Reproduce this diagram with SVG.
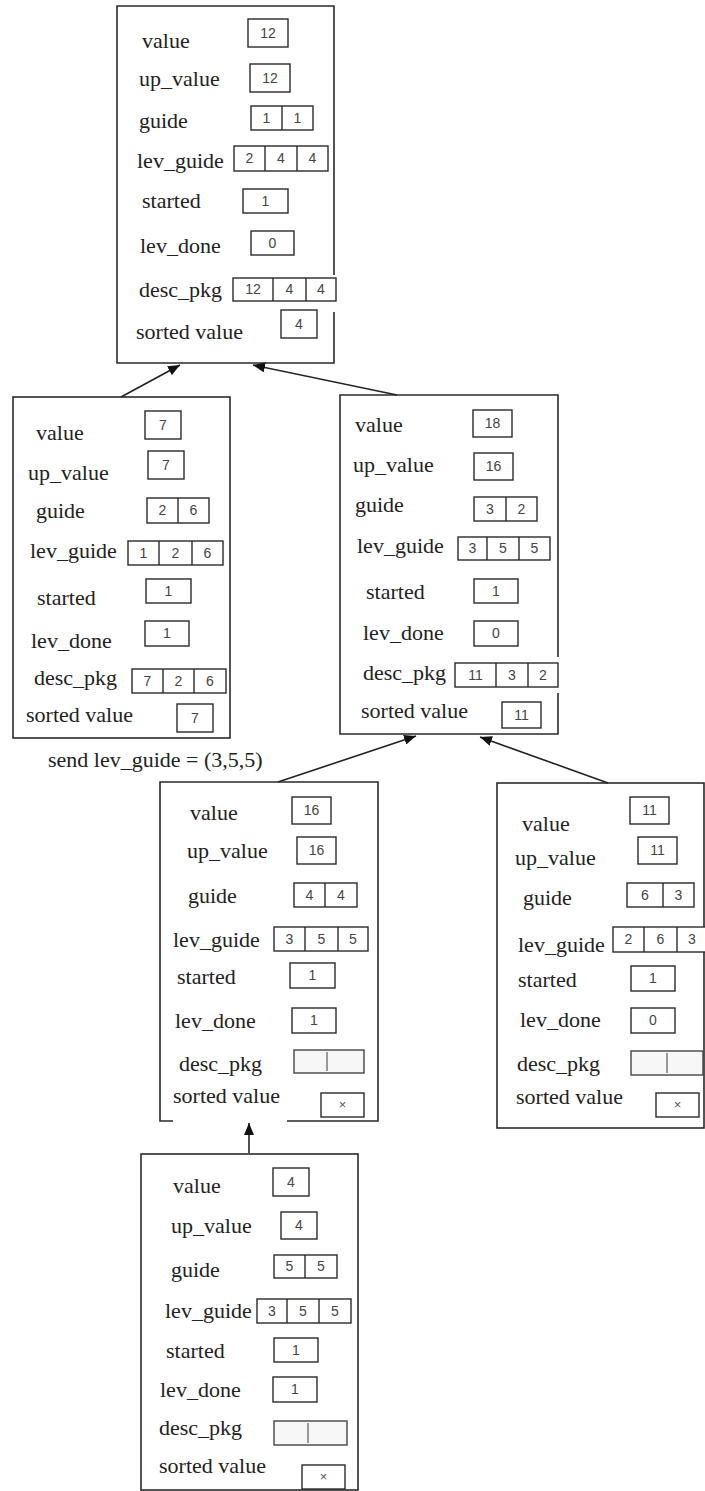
<svg xmlns="http://www.w3.org/2000/svg" width="705" height="1491" viewBox="0 0 705 1491">
<defs>
<style>
.node{fill:none;stroke:#2a2a2a;stroke-width:1.6}
.lbl{font-family:"Liberation Serif","Times New Roman",serif;font-size:22px;fill:#222}
.cell{fill:#fff;stroke:#2a2a2a;stroke-width:1.4}
.div{stroke:#2a2a2a;stroke-width:1.4}
.gdiv{stroke:#999;stroke-width:2}
.ecell{fill:#f7f7f7;stroke:#444;stroke-width:1.4}
.num{font-family:"Liberation Sans",Arial,sans-serif;font-size:14px;fill:#444;text-anchor:middle}
.x{font-family:"Liberation Sans",Arial,sans-serif;font-size:13px;fill:#555;text-anchor:middle}
.conn{stroke:#222;stroke-width:1.6;fill:none}
</style>
<marker id="ah" viewBox="0 0 12 10" refX="12" refY="5" markerWidth="12" markerHeight="10" markerUnits="userSpaceOnUse" orient="auto">
<path d="M0,0 L12,5 L0,10 Z" fill="#111"/>
</marker>
</defs>
<rect width="705" height="1491" fill="#fff"/>

<g id="node-top">
<path class="node" d="M334,275 V6 H117 V363 H334 V312"/>
<text class="lbl" x="142" y="48">value</text>
<rect class="cell" x="248" y="19" width="40" height="28"/><text class="num" x="268" y="38">12</text>
<text class="lbl" x="139" y="86">up_value</text>
<rect class="cell" x="250" y="64" width="40" height="28"/><text class="num" x="270" y="83">12</text>
<text class="lbl" x="139" y="128">guide</text>
<rect class="cell" x="251" y="106" width="62" height="24"/><line class="div" x1="282" y1="106" x2="282" y2="130"/>
<text class="num" x="266.5" y="123">1</text><text class="num" x="297.5" y="123">1</text>
<text class="lbl" x="137" y="168">lev_guide</text>
<rect class="cell" x="234" y="146" width="94" height="25"/><line class="div" x1="265" y1="146" x2="265" y2="171"/><line class="div" x1="297" y1="146" x2="297" y2="171"/>
<text class="num" x="249.5" y="163">2</text><text class="num" x="281" y="163">4</text><text class="num" x="312.5" y="163">4</text>
<text class="lbl" x="142" y="208">started</text>
<rect class="cell" x="243" y="189" width="45" height="24"/><text class="num" x="265.5" y="206">1</text>
<text class="lbl" x="140" y="253">lev_done</text>
<rect class="cell" x="251" y="231" width="43" height="24"/><text class="num" x="272.5" y="248">0</text>
<text class="lbl" x="139" y="297">desc_pkg</text>
<rect class="cell" x="233" y="278" width="103" height="23"/><line class="div" x1="273" y1="278" x2="273" y2="301"/><line class="div" x1="306" y1="278" x2="306" y2="301"/>
<text class="num" x="253" y="294">12</text><text class="num" x="289.5" y="294">4</text><text class="num" x="321" y="294">4</text>
<text class="lbl" x="136" y="339">sorted value</text>
<rect class="cell" x="281" y="310" width="36" height="28"/><text class="num" x="299" y="329">4</text>
</g>

<g id="node-left">
<rect class="node" x="13" y="397" width="217" height="341"/>
<text class="lbl" x="36" y="440">value</text>
<rect class="cell" x="145" y="411" width="36" height="28"/><text class="num" x="163" y="430">7</text>
<text class="lbl" x="28" y="480">up_value</text>
<rect class="cell" x="148" y="451" width="36" height="28"/><text class="num" x="166" y="470">7</text>
<text class="lbl" x="36" y="518">guide</text>
<rect class="cell" x="147" y="498" width="62" height="25"/><line class="div" x1="178" y1="498" x2="178" y2="523"/>
<text class="num" x="162.5" y="515">2</text><text class="num" x="193.5" y="515">6</text>
<text class="lbl" x="30" y="558">lev_guide</text>
<rect class="cell" x="128" y="541" width="95" height="24"/><line class="div" x1="159" y1="541" x2="159" y2="565"/><line class="div" x1="192" y1="541" x2="192" y2="565"/>
<text class="num" x="143.5" y="558">1</text><text class="num" x="175.5" y="558">2</text><text class="num" x="207.5" y="558">6</text>
<text class="lbl" x="37" y="605">started</text>
<rect class="cell" x="146" y="579" width="45" height="24"/><text class="num" x="168.5" y="596">1</text>
<text class="lbl" x="31" y="648">lev_done</text>
<rect class="cell" x="145" y="621" width="44" height="25"/><text class="num" x="167" y="638">1</text>
<text class="lbl" x="34" y="685">desc_pkg</text>
<rect class="cell" x="132" y="669" width="94" height="24"/><line class="div" x1="163" y1="669" x2="163" y2="693"/><line class="div" x1="194" y1="669" x2="194" y2="693"/>
<text class="num" x="147.5" y="686">7</text><text class="num" x="178.5" y="686">2</text><text class="num" x="210" y="686">6</text>
<text class="lbl" x="26" y="722">sorted value</text>
<rect class="cell" x="177" y="704" width="36" height="28"/><text class="num" x="195" y="723">7</text>
</g>

<g id="node-right">
<path class="node" d="M558,657 V395 H340 V734 H558 V693"/>
<text class="lbl" x="355" y="432">value</text>
<rect class="cell" x="473" y="410" width="39" height="27"/><text class="num" x="492.5" y="428">18</text>
<text class="lbl" x="353" y="472">up_value</text>
<rect class="cell" x="474" y="453" width="39" height="27"/><text class="num" x="493.5" y="471">16</text>
<text class="lbl" x="355" y="512">guide</text>
<rect class="cell" x="474" y="497" width="63" height="24"/><line class="div" x1="506" y1="497" x2="506" y2="521"/>
<text class="num" x="490" y="514">3</text><text class="num" x="521.5" y="514">2</text>
<text class="lbl" x="357" y="553">lev_guide</text>
<rect class="cell" x="458" y="537" width="92" height="23"/><line class="div" x1="487" y1="537" x2="487" y2="560"/><line class="div" x1="519" y1="537" x2="519" y2="560"/>
<text class="num" x="472.5" y="553">3</text><text class="num" x="503" y="553">5</text><text class="num" x="534.5" y="553">5</text>
<text class="lbl" x="366" y="599">started</text>
<rect class="cell" x="474" y="579" width="44" height="24"/><text class="num" x="496" y="596">1</text>
<text class="lbl" x="363" y="640">lev_done</text>
<rect class="cell" x="474" y="621" width="44" height="25"/><text class="num" x="496" y="638">0</text>
<text class="lbl" x="363" y="680">desc_pkg</text>
<rect class="cell" x="455" y="663" width="103" height="24"/><line class="div" x1="496" y1="663" x2="496" y2="687"/><line class="div" x1="528" y1="663" x2="528" y2="687"/>
<text class="num" x="475.5" y="680">11</text><text class="num" x="512" y="680">3</text><text class="num" x="543" y="680">2</text>
<text class="lbl" x="361" y="718">sorted value</text>
<rect class="cell" x="502" y="702" width="39" height="26"/><text class="num" x="521.5" y="720">11</text>
</g>

<g id="note">
<text class="lbl" x="48" y="767">send lev_guide = (3,5,5)</text>
</g>

<g id="node-mid">
<path class="node" d="M173,1121 H160 V782 H378 V1121 H287"/>
<text class="lbl" x="190" y="820">value</text>
<rect class="cell" x="292" y="797" width="39" height="27"/><text class="num" x="311.5" y="815">16</text>
<text class="lbl" x="187" y="858">up_value</text>
<rect class="cell" x="297" y="837" width="39" height="27"/><text class="num" x="316.5" y="855">16</text>
<text class="lbl" x="188" y="903">guide</text>
<rect class="cell" x="294" y="883" width="63" height="24"/><line class="div" x1="325" y1="883" x2="325" y2="907"/>
<text class="num" x="309.5" y="900">4</text><text class="num" x="341" y="900">4</text>
<text class="lbl" x="173" y="947">lev_guide</text>
<rect class="cell" x="274" y="927" width="94" height="24"/><line class="div" x1="305" y1="927" x2="305" y2="951"/><line class="div" x1="338" y1="927" x2="338" y2="951"/>
<text class="num" x="289.5" y="944">3</text><text class="num" x="321.5" y="944">5</text><text class="num" x="353" y="944">5</text>
<text class="lbl" x="177" y="984">started</text>
<rect class="cell" x="290" y="963" width="45" height="25"/><text class="num" x="312.5" y="980">1</text>
<text class="lbl" x="175" y="1028">lev_done</text>
<rect class="cell" x="292" y="1008" width="44" height="25"/><text class="num" x="314" y="1025">1</text>
<text class="lbl" x="179" y="1071">desc_pkg</text>
<rect class="ecell" x="294" y="1050" width="70" height="23"/><line class="gdiv" x1="327" y1="1052" x2="327" y2="1071"/>
<text class="lbl" x="173" y="1103">sorted value</text>
<rect class="cell" x="321" y="1093" width="43" height="24"/><text class="x" x="342.5" y="1109">×</text>
</g>

<g id="node-rightbottom">
<rect class="node" x="497" y="783" width="207" height="345"/>
<text class="lbl" x="522" y="831">value</text>
<rect class="cell" x="630" y="797" width="39" height="27"/><text class="num" x="649.5" y="815">11</text>
<text class="lbl" x="515" y="865">up_value</text>
<rect class="cell" x="638" y="837" width="39" height="27"/><text class="num" x="657.5" y="855">11</text>
<text class="lbl" x="523" y="905">guide</text>
<rect class="cell" x="627" y="883" width="67" height="24"/><line class="div" x1="663" y1="883" x2="663" y2="907"/>
<text class="num" x="645" y="900">6</text><text class="num" x="678.5" y="900">3</text>
<text class="lbl" x="518" y="952">lev_guide</text>
<rect class="cell" x="613" y="927" width="95" height="25"/><line class="div" x1="644" y1="927" x2="644" y2="952"/><line class="div" x1="677" y1="927" x2="677" y2="952"/>
<text class="num" x="628.5" y="944">2</text><text class="num" x="660.5" y="944">6</text><text class="num" x="692" y="944">3</text>
<text class="lbl" x="518" y="987">started</text>
<rect class="cell" x="631" y="966" width="44" height="25"/><text class="num" x="653" y="983">1</text>
<text class="lbl" x="520" y="1027">lev_done</text>
<rect class="cell" x="631" y="1008" width="44" height="25"/><text class="num" x="653" y="1025">0</text>
<text class="lbl" x="517" y="1071">desc_pkg</text>
<rect class="ecell" x="631" y="1051" width="72" height="24"/><line class="gdiv" x1="667" y1="1053" x2="667" y2="1073"/>
<text class="lbl" x="516" y="1104">sorted value</text>
<rect class="cell" x="656" y="1093" width="43" height="24"/><text class="x" x="677.5" y="1109">×</text>
</g>

<g id="node-bottom">
<rect class="node" x="141" y="1154" width="217" height="336"/>
<text class="lbl" x="173" y="1193">value</text>
<rect class="cell" x="273" y="1168" width="36" height="28"/><text class="num" x="291" y="1187">4</text>
<text class="lbl" x="171" y="1233">up_value</text>
<rect class="cell" x="281" y="1212" width="36" height="27"/><text class="num" x="299" y="1230">4</text>
<text class="lbl" x="171" y="1277">guide</text>
<rect class="cell" x="274" y="1255" width="63" height="23"/><line class="div" x1="305" y1="1255" x2="305" y2="1278"/>
<text class="num" x="289.5" y="1271">5</text><text class="num" x="321" y="1271">5</text>
<text class="lbl" x="165" y="1318">lev_guide</text>
<rect class="cell" x="257" y="1299" width="94" height="24"/><line class="div" x1="287" y1="1299" x2="287" y2="1323"/><line class="div" x1="319" y1="1299" x2="319" y2="1323"/>
<text class="num" x="272" y="1316">3</text><text class="num" x="303" y="1316">5</text><text class="num" x="335" y="1316">5</text>
<text class="lbl" x="166" y="1358">started</text>
<rect class="cell" x="274" y="1338" width="44" height="24"/><text class="num" x="296" y="1355">1</text>
<text class="lbl" x="160" y="1397">lev_done</text>
<rect class="cell" x="273" y="1377" width="44" height="25"/><text class="num" x="295" y="1394">1</text>
<text class="lbl" x="159" y="1435">desc_pkg</text>
<rect class="ecell" x="274" y="1421" width="73" height="24"/><line class="gdiv" x1="308" y1="1423" x2="308" y2="1443"/>
<text class="lbl" x="159" y="1473">sorted value</text>
<rect class="cell" x="302" y="1465" width="43" height="24"/><text class="x" x="323.5" y="1481">×</text>
</g>

<g id="connectors">
<line class="conn" x1="121" y1="397" x2="180" y2="365" marker-end="url(#ah)"/>
<line class="conn" x1="397" y1="395" x2="253" y2="365" marker-end="url(#ah)"/>
<line class="conn" x1="278" y1="782" x2="416" y2="736" marker-end="url(#ah)"/>
<line class="conn" x1="608" y1="783" x2="480" y2="737" marker-end="url(#ah)"/>
<line class="conn" x1="249" y1="1153" x2="249" y2="1123" marker-end="url(#ah)"/>
</g>
</svg>
